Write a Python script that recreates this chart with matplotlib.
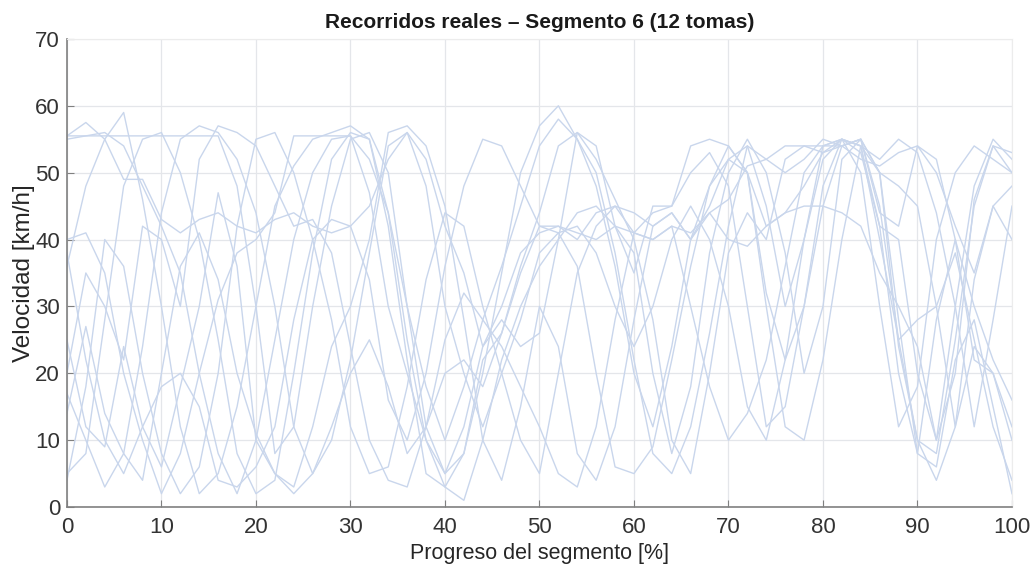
import matplotlib
matplotlib.use("Agg")
import matplotlib.pyplot as plt
import numpy as np

# progreso [%] y velocidades [km/h] de las 12 tomas
progreso = list(range(0, 101, 2))

toma_01 = [55.5, 55.5, 55.5, 55.5, 55.5, 55.5, 55.5, 55.5, 55.5, 48, 30, 8, 12, 30, 45, 55, 56, 50, 30, 12, 5,
           8, 22, 26, 35, 42, 42, 40, 44, 45, 44, 42, 44, 40, 48, 52, 54, 45, 30, 40, 54, 55, 54, 42, 20, 8,
           28, 40, 30, 22, 16]
toma_02 = [55.5, 57.5, 55, 49, 49, 43, 41, 43, 44, 42, 41, 43, 44, 42, 41, 42, 45, 52, 56, 52, 42, 35, 24, 30,
           38, 41, 42, 41, 40, 42, 41, 40, 42, 41, 44, 46, 51, 52, 50, 52, 55, 54, 52, 51, 53, 54, 50, 42, 35,
           45, 48]
toma_03 = [40, 41, 35, 20, 10, 2, 8, 20, 31, 38, 40, 44, 55.5, 55.5, 55.5, 55.5, 52, 44, 30, 18, 10, 18, 28,
           36, 45, 54, 58, 55, 48, 36, 20, 12, 24, 40, 45, 52, 50, 42, 44, 48, 53, 55, 50, 30, 12, 18, 40, 50,
           54, 52, 50]
toma_04 = [36, 48, 55, 59, 46, 30, 12, 2, 5, 15, 30, 45, 51, 55, 56, 57, 55, 44, 25, 10, 3, 8, 20, 35, 50, 57,
           60, 55, 50, 38, 22, 8, 5, 12, 26, 42, 54, 52, 54, 54, 54, 55, 53, 42, 40, 20, 10, 30, 48, 55, 52]
toma_05 = [17, 10, 3, 8, 24, 44, 55, 57, 56, 52, 44, 30, 12, 5, 10, 22, 38, 54, 56, 48, 30, 20, 12, 20, 28,
           38, 41, 42, 38, 30, 24, 30, 40, 45, 40, 30, 15, 10, 22, 40, 52, 55, 54, 50, 48, 45, 30, 12, 24, 20,
           10]
toma_06 = [5, 8, 28, 48, 55, 56, 50, 40, 25, 8, 2, 4, 20, 38, 52, 56, 55, 42, 22, 5, 3, 1, 10, 22, 30, 36,
           40, 44, 45, 42, 38, 20, 8, 18, 38, 50, 55, 50, 38, 20, 30, 52, 55, 44, 42, 54, 52, 40, 22, 20, 12]
toma_07 = [4, 18, 40, 36, 20, 8, 2, 6, 20, 42, 55, 56, 50, 40, 28, 12, 5, 6, 18, 34, 44, 42, 30, 20, 10, 5,
           20, 35, 42, 45, 41, 44, 45, 50, 53, 48, 30, 12, 15, 30, 45, 54, 55, 45, 25, 10, 8, 25, 45, 54, 50]
toma_08 = [25, 12, 9, 24, 12, 6, 18, 30, 47, 36, 10, 5, 3, 12, 24, 30, 40, 56, 57, 54, 45, 28, 10, 4, 15, 30,
           24, 8, 4, 12, 28, 42, 44, 40, 44, 40, 39, 42, 44, 45, 45, 44, 42, 35, 30, 24, 10, 20, 46, 54, 53]
toma_09 = [14, 27, 14, 8, 4, 20, 36, 41, 34, 20, 11, 5, 2, 5, 12, 20, 25, 18, 8, 12, 25, 32, 28, 24, 18, 12,
           5, 3, 12, 28, 41, 40, 42, 30, 18, 10, 14, 22, 36, 50, 54, 54, 55, 50, 28, 8, 6, 22, 28, 15, 2]
toma_10 = [55, 55.5, 56, 54, 48, 42, 35, 20, 8, 2, 10, 25, 40, 50, 55, 55.5, 47, 30, 20, 10, 5, 12, 24, 28,
           24, 26, 40, 56, 54, 42, 35, 45, 45, 54, 55, 54, 50, 32, 22, 30, 48, 55, 54, 40, 25, 28, 30, 38, 25,
           12, 4]
toma_11 = [38, 22, 10, 5, 12, 18, 20, 15, 4, 3, 6, 12, 28, 40, 43, 42, 34, 16, 10, 20, 36, 48, 55, 54, 48,
           42, 41, 36, 20, 6, 5, 9, 22, 36, 48, 54, 50, 30, 12, 10, 22, 40, 54, 52, 55, 53, 44, 30, 12, 28, 45]
toma_12 = [20, 35, 30, 22, 42, 40, 30, 52, 57, 56, 54, 48, 42, 43, 38, 24, 10, 4, 3, 12, 20, 22, 18, 26, 36,
           44, 54, 56, 52, 46, 40, 28, 10, 5, 20, 38, 44, 40, 52, 54, 53, 54, 55, 50, 24, 10, 4, 12, 34, 45,
           40]

tomas = [toma_01, toma_02, toma_03, toma_04, toma_05, toma_06,
         toma_07, toma_08, toma_09, toma_10, toma_11, toma_12]

plt.rcParams['font.family'] = ['Liberation Sans', 'DejaVu Sans']

fig = plt.figure(figsize=(10.3, 5.64), dpi=100)
ax = fig.add_axes([0.065, 0.101, 0.9175, 0.830])

for v in tomas:
    ax.plot(progreso, v, color="#c9d6ec", lw=1.0)

ax.set_xlim(0, 100)
ax.set_ylim(0, 70)
ax.set_xticks(np.arange(0, 101, 10))
ax.set_yticks(np.arange(0, 71, 10))
ax.grid(True, color="#e4e6ea", lw=0.9)
ax.set_axisbelow(True)
ax.tick_params(direction="in", length=5, colors="#808080", labelsize=16, labelcolor="#333333")
ax.tick_params(axis="x", pad=7)
ax.tick_params(axis="y", pad=5)
for s in ("top", "right"):
    ax.spines[s].set_color("#ececec")
for s in ("left", "bottom"):
    ax.spines[s].set_color("#808080")
    ax.spines[s].set_linewidth(1.2)

ax.set_xlabel("Progreso del segmento [%]", fontsize=15.5, color="#262626", labelpad=4)
ax.set_ylabel("Velocidad [km/h]", fontsize=17.5, color="#262626", labelpad=0)
ax.set_title("Recorridos reales – Segmento 6 (12 tomas)", fontsize=15, fontweight="bold",
             color="#1a1a1a", pad=8)

fig.savefig("out.png", dpi=100)
